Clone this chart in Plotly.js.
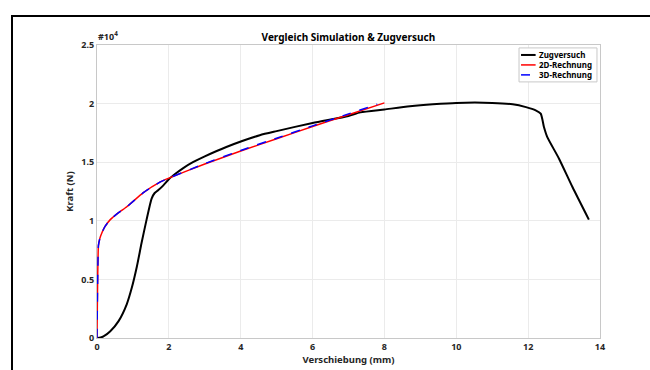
<!DOCTYPE html>
<html>
<head>
<meta charset="utf-8">
<script src="https://cdn.plot.ly/plotly-3.0.1.min.js"></script>
<style>
html,body{margin:0;padding:0;background:#fff;}
#wrap{position:relative;width:650px;height:370px;overflow:hidden;}
#chart{width:650px;height:370px;}
#frame{position:absolute;left:11px;top:15px;width:700px;height:400px;border-top:2px solid #000;border-left:2px solid #000;pointer-events:none;}
</style>
</head>
<body>
<div id="wrap"><div id="chart"></div><div id="frame"></div></div>
<script>
// Zugversuch (test) - displacement in mm, force in N
const testX = [0, 0.1, 0.18, 0.37, 0.6, 0.83, 0.97, 1.11, 1.24, 1.38, 1.52, 1.6, 1.7, 1.84, 2.0, 2.2, 2.4, 2.67, 3.0, 3.6, 4.53, 5.0, 6.0, 7.0, 7.33, 8.0, 8.71, 9.35, 10.0, 11.0, 11.57, 11.94, 12.21, 12.35, 12.44, 12.53, 12.86, 13.23, 13.69];
const testY = [0, 50, 140, 580, 1440, 2900, 4300, 6100, 8100, 10100, 11900, 12350, 12600, 13000, 13550, 14050, 14500, 15000, 15500, 16300, 17300, 17650, 18350, 18950, 19250, 19500, 19770, 19940, 20060, 20060, 19940, 19700, 19430, 19150, 18000, 17160, 15300, 12900, 10100];
// 2D-Rechnung
const sim2dX = [0, 0.04, 0.08, 0.14, 0.22, 0.37, 0.6, 0.83, 1.29, 1.75, 2.0, 3.0, 4.0, 5.0, 6.0, 7.0, 8.0];
const sim2dY = [0, 7900, 8500, 9000, 9500, 10100, 10700, 11200, 12400, 13300, 13640, 14850, 15950, 17000, 18050, 19050, 20060];
// 3D-Rechnung
const sim3dX = [0, 0.04, 0.08, 0.14, 0.22, 0.37, 0.6, 0.83, 1.29, 1.75, 2.0, 3.0, 4.0, 5.0, 6.0, 7.0, 7.8];
const sim3dY = [0, 7900, 8500, 9000, 9500, 10100, 10700, 11200, 12400, 13300, 13640, 14880, 16000, 17050, 18100, 19120, 19950];
// axis ticks
const xTicks = [0, 2, 4, 6, 8, 10, 12, 14];
const yTickVals = [0, 5000, 10000, 15000, 20000, 25000];
const yTickText = ['0', '0.5', '1', '1.5', '2', '2.5'];
// legend entries
const seriesNames = ['Zugversuch', '2D-Rechnung', '3D-Rechnung'];
const seriesColors = ['#000000', '#ff0000', '#0000ff'];
const seriesDash = ['solid', 'solid', 'dash'];
const seriesWidth = [2, 1.5, 1.5];

const F = 'Noto Sans, DejaVu Sans, sans-serif';
const xs = [testX, sim2dX, sim3dX];
const ys = [testY, sim2dY, sim3dY];
const traces = seriesNames.map((n, i) => ({
  x: xs[i], y: ys[i], name: n, mode: 'lines',
  line: {color: seriesColors[i], width: seriesWidth[i], dash: seriesDash[i], shape: 'spline', smoothing: i === 0 ? 0.6 : 0.4}
}));

// custom compact legend (paper coordinates)
const lgX0 = 0.839, lgX1 = 0.994, lgTop = 0.990, lgBot = 0.874;
const rowY = [0.966, 0.932, 0.898];
const shapes = [{type: 'rect', xref: 'paper', yref: 'paper', x0: lgX0, x1: lgX1, y0: lgBot, y1: lgTop,
  fillcolor: '#fff', line: {color: '#c8c8c8', width: 1}, layer: 'above'}];
const annotations = [
  {text: '<b>#10<sup>4</sup></b>', xref: 'paper', yref: 'paper', x: -0.002, y: 1.0, xanchor: 'left', yanchor: 'bottom', showarrow: false, font: {family: F, size: 9, color: '#262626'}}
];
seriesNames.forEach((n, i) => {
  shapes.push({type: 'line', xref: 'paper', yref: 'paper', x0: 0.843, x1: 0.872, y0: rowY[i], y1: rowY[i],
    line: {color: seriesColors[i], width: seriesWidth[i], dash: seriesDash[i]}, layer: 'above'});
  annotations.push({text: '<b>' + n + '</b>', xref: 'paper', yref: 'paper', x: 0.874, y: rowY[i], xanchor: 'left', yanchor: 'middle',
    showarrow: false, font: {family: F, size: 8, color: '#000'}});
});

const layout = {
  width: 650, height: 370,
  margin: {l: 97, r: 50, t: 45, b: 32},
  paper_bgcolor: '#fff', plot_bgcolor: '#fff',
  font: {family: F, size: 9, color: '#262626'},
  showlegend: false,
  title: {text: '<b>Vergleich Simulation & Zugversuch</b>', x: 0.536, xanchor: 'center', y: 0.9, yanchor: 'middle', font: {family: F, size: 10, color: '#000'}},
  xaxis: {
    range: [0, 14], tickvals: xTicks, ticktext: xTicks.map(v => '<b>' + v + '</b>'),
    showgrid: true, gridcolor: '#ebebeb', gridwidth: 1,
    showline: true, linecolor: '#c8c8c8', linewidth: 1, mirror: true,
    zeroline: false, ticks: '', ticklen: 0,
    tickfont: {family: F, size: 9, color: '#262626'},
    title: {text: '<b>Verschiebung (mm)</b>', standoff: 2, font: {family: F, size: 9.5, color: '#262626'}}
  },
  yaxis: {
    range: [0, 25000], tickvals: yTickVals, ticktext: yTickText.map(t => '<b>' + t + '</b>'),
    showgrid: true, gridcolor: '#ebebeb', gridwidth: 1,
    showline: true, linecolor: '#c8c8c8', linewidth: 1, mirror: true,
    zeroline: false, ticks: '', ticklen: 0,
    tickfont: {family: F, size: 9, color: '#262626'},
    title: {text: '<b>Kraft (N)</b>', standoff: 6, font: {family: F, size: 9.5, color: '#262626'}}
  },
  shapes: shapes,
  annotations: annotations
};
Plotly.newPlot('chart', traces, layout, {displayModeBar: false, staticPlot: true});
</script>
</body>
</html>
